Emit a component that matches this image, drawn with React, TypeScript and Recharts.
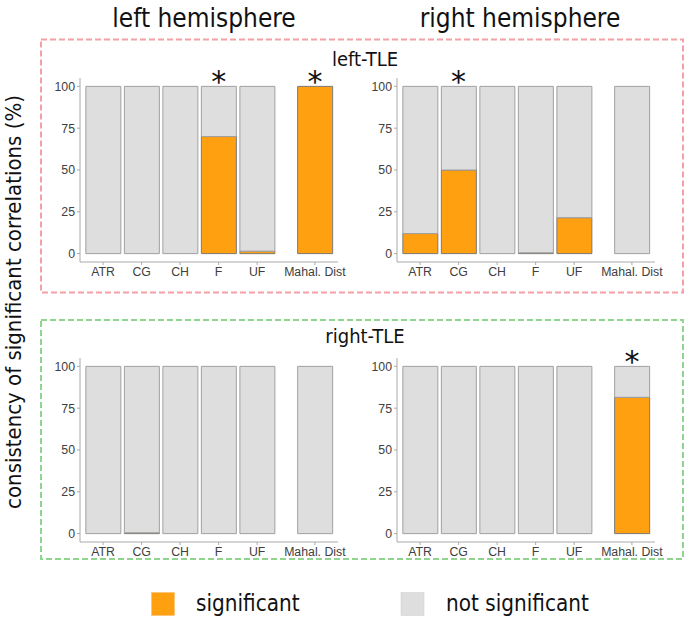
import React from "react";
import { ComposedChart, Bar, Scatter, XAxis, YAxis } from "recharts";

const tracts = ["ATR", "CG", "CH", "F", "UF", "Mahal. Dist"];
const tractPositions = [1, 2, 3, 4, 5, 6.5];
const yTicks = [0, 25, 50, 75, 100];

// % of significant correlations per tract
const leftTleLeftHemi = [0, 0, 0, 70, 1.5, 100];
const leftTleRightHemi = [12, 50, 0, 0.5, 21.5, 0];
const rightTleLeftHemi = [0, 0.5, 0, 0, 0, 0];
const rightTleRightHemi = [0, 0, 0, 0, 0, 81.5];

const leftTleLeftStars = [false, false, false, true, false, true];
const leftTleRightStars = [false, true, false, false, false, false];
const rightTleLeftStars = [false, false, false, false, false, false];
const rightTleRightStars = [false, false, false, false, false, true];

const ORANGE = "#ffa010";
const GREY = "#dedede";
const TITLE_FONT = "'DejaVu Sans Condensed', 'DejaVu Sans', sans-serif";

const StarShape = (props: any) => {
  const { cx, cy, payload } = props;
  if (!payload || payload.starLevel == null || cx == null || cy == null || isNaN(cy)) return <g />;
  return (
    <text x={cx} y={cy + 6} textAnchor="middle" fontSize={30} fontFamily="DejaVu Sans" fill="#111">
      *
    </text>
  );
};

function Panel({ sig, stars, left, top }: { sig: number[]; stars: boolean[]; left: number; top: number }) {
  const data = tractPositions.map((pos, i) => ({
    pos,
    name: tracts[i],
    sig: sig[i],
    ns: 100 - sig[i],
    starLevel: stars[i] ? 100 : null,
  }));
  const starData = data.filter((d) => d.starLevel != null);
  const tickStyle = { fill: "#404040", fontSize: 12.3, fontFamily: "'Liberation Sans', Arial, sans-serif" };
  return (
    <div style={{ position: "absolute", left, top }}>
      <ComposedChart width={333} height={234} data={data} margin={{ top: 20, right: 35, bottom: 0, left: 0 }}>
        <XAxis
          type="number"
          dataKey="pos"
          domain={[0.4, 7.1]}
          ticks={tractPositions}
          tickFormatter={(v: number) => tracts[tractPositions.indexOf(v)]}
          interval={0}
          height={30}
          tickSize={3}
          tickMargin={2}
          stroke="#aaaaaa"
          tick={tickStyle}
        />
        <YAxis
          type="number"
          domain={[-5, 105]}
          ticks={yTicks}
          width={40}
          tickSize={3}
          tickMargin={2}
          stroke="#aaaaaa"
          tick={tickStyle}
        />
        <Bar dataKey="sig" stackId="a" fill={ORANGE} stroke="#7a7a7a" barSize={35} isAnimationActive={false} />
        <Bar dataKey="ns" stackId="a" fill={GREY} stroke="#a0a0a0" barSize={35} isAnimationActive={false} />
        {starData.length > 0 && (
          <Scatter data={starData} dataKey="starLevel" shape={StarShape} isAnimationActive={false} />
        )}
      </ComposedChart>
    </div>
  );
}

export default function App() {
  return (
    <div style={{ position: "absolute", left: 0, top: 0, width: 685, height: 617, background: "#fff", overflow: "hidden" }}>
      <svg width={685} height={617} style={{ position: "absolute", left: 0, top: 0 }}>
        <text x={204} y={27} textAnchor="middle" fontSize={26} fontFamily={TITLE_FONT} fill="#111">
          left hemisphere
        </text>
        <text x={520} y={27} textAnchor="middle" fontSize={26} fontFamily={TITLE_FONT} fill="#111">
          right hemisphere
        </text>
        <rect x={41} y={39.5} width={642} height={253} fill="none" stroke="#f4a0a6" strokeWidth={2} strokeDasharray="6 3" />
        <rect x={41} y={320} width={642} height={239} fill="none" stroke="#90d490" strokeWidth={2} strokeDasharray="6 3" />
        <text x={365} y={66} textAnchor="middle" fontSize={20} fontFamily={TITLE_FONT} fill="#111">
          left-TLE
        </text>
        <text x={365} y={343} textAnchor="middle" fontSize={20} fontFamily={TITLE_FONT} fill="#111">
          right-TLE
        </text>
        <text
          transform="translate(21,302) rotate(-90)"
          textAnchor="middle"
          fontSize={22}
          fontFamily={TITLE_FONT}
          fill="#111"
        >
          consistency of significant correlations (%)
        </text>
        <rect x={151.5} y={592.5} width={23} height={23} fill={ORANGE} stroke="#f5c070" strokeWidth={0.5} />
        <text x={196} y={611} fontSize={22.3} fontFamily={TITLE_FONT} fill="#111">
          significant
        </text>
        <rect x={401} y={592.5} width={23} height={23} fill={GREY} stroke="#cccccc" strokeWidth={0.5} />
        <text x={446} y={611} fontSize={22.3} fontFamily={TITLE_FONT} fill="#111">
          not significant
        </text>
      </svg>
      <Panel sig={leftTleLeftHemi} stars={leftTleLeftStars} left={40} top={58} />
      <Panel sig={leftTleRightHemi} stars={leftTleRightStars} left={357} top={58} />
      <Panel sig={rightTleLeftHemi} stars={rightTleLeftStars} left={40} top={338} />
      <Panel sig={rightTleRightHemi} stars={rightTleRightStars} left={357} top={338} />
    </div>
  );
}
